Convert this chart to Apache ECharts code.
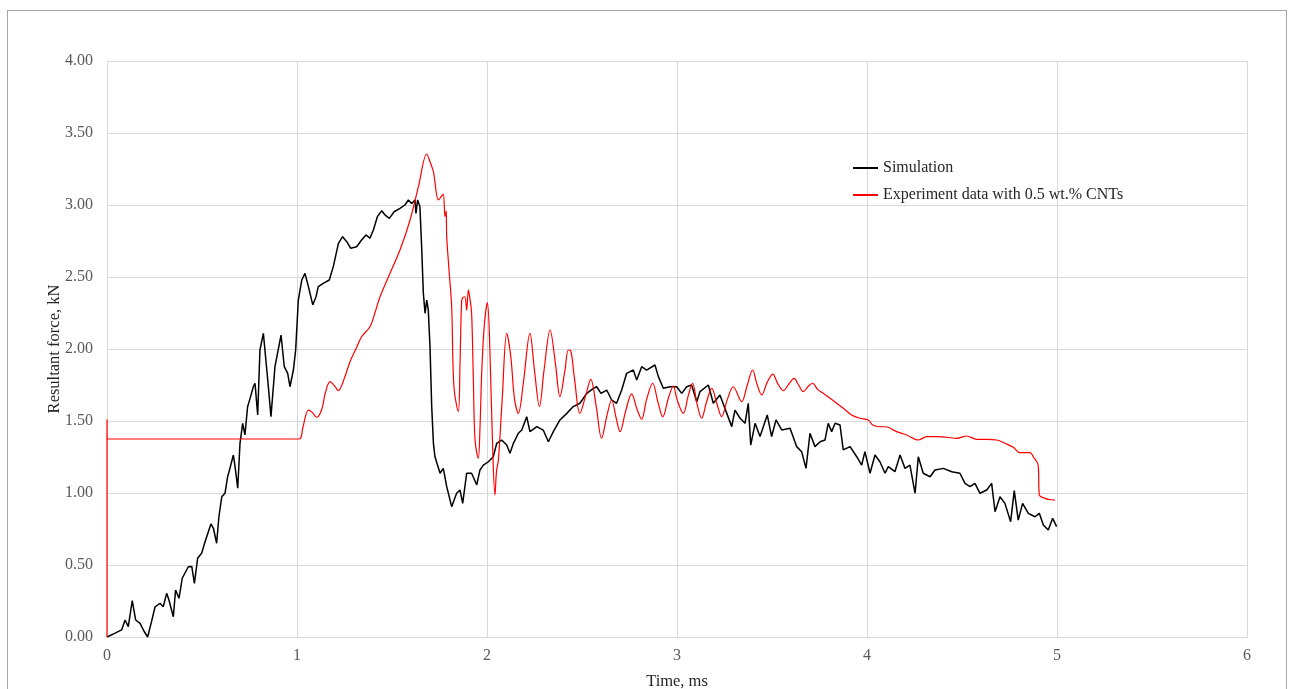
<!DOCTYPE html>
<html>
<head>
<meta charset="utf-8">
<title>Resultant force vs time</title>
<script src="https://cdn.jsdelivr.net/npm/echarts@6/dist/echarts.min.js"></script>
<style>
  html, body { margin: 0; padding: 0; background: #fff; }
  #frame { position: absolute; left: 7px; top: 10px; width: 1280px; height: 700px; border: 1px solid #a6a6a6; box-sizing: border-box; }
  #chart { position: absolute; left: 0; top: 0; width: 1294px; height: 689px; }
</style>
</head>
<body>
<div id="frame"></div>
<div id="chart"></div>
<script>
// Axis ticks
const xTicks = [0, 1, 2, 3, 4, 5, 6];
const yTicks = [0, 0.5, 1, 1.5, 2, 2.5, 3, 3.5, 4];

const seriesNames = ['Simulation', 'Experiment data with 0.5 wt.% CNTs'];

// Simulation: time (ms) and resultant force (kN)
const simTime = [0, 0.04, 0.077, 0.095, 0.112, 0.133, 0.151, 0.174, 0.195, 0.214, 0.235, 0.253, 0.279, 0.296, 0.314, 0.326, 0.349, 0.361, 0.379, 0.396, 0.428, 0.446, 0.46, 0.477, 0.498, 0.516, 0.547, 0.56, 0.577, 0.589, 0.604, 0.621, 0.635, 0.647, 0.665, 0.674, 0.688, 0.7, 0.714, 0.726, 0.74, 0.753, 0.77, 0.779, 0.793, 0.805, 0.823, 0.846, 0.863, 0.884, 0.916, 0.933, 0.951, 0.963, 0.981, 0.993, 1.007, 1.025, 1.042, 1.06, 1.083, 1.1, 1.112, 1.138, 1.17, 1.191, 1.218, 1.24, 1.262, 1.283, 1.314, 1.34, 1.363, 1.384, 1.402, 1.423, 1.446, 1.463, 1.486, 1.511, 1.542, 1.568, 1.586, 1.604, 1.621, 1.626, 1.635, 1.647, 1.656, 1.665, 1.674, 1.683, 1.691, 1.7, 1.709, 1.718, 1.726, 1.753, 1.77, 1.788, 1.814, 1.84, 1.858, 1.872, 1.893, 1.919, 1.946, 1.963, 1.981, 2.007, 2.033, 2.051, 2.077, 2.104, 2.121, 2.139, 2.165, 2.183, 2.209, 2.226, 2.262, 2.296, 2.323, 2.349, 2.384, 2.42, 2.454, 2.489, 2.525, 2.56, 2.577, 2.6, 2.63, 2.656, 2.682, 2.709, 2.735, 2.77, 2.788, 2.814, 2.84, 2.884, 2.902, 2.928, 2.963, 2.998, 3.025, 3.051, 3.077, 3.104, 3.121, 3.165, 3.191, 3.226, 3.262, 3.288, 3.305, 3.332, 3.358, 3.375, 3.388, 3.411, 3.437, 3.475, 3.498, 3.521, 3.551, 3.595, 3.63, 3.656, 3.679, 3.7, 3.726, 3.753, 3.779, 3.796, 3.814, 3.832, 3.858, 3.875, 3.911, 3.946, 3.972, 3.989, 4.016, 4.042, 4.068, 4.095, 4.112, 4.147, 4.174, 4.2, 4.226, 4.253, 4.27, 4.296, 4.332, 4.358, 4.402, 4.446, 4.489, 4.516, 4.542, 4.568, 4.595, 4.63, 4.656, 4.674, 4.7, 4.726, 4.756, 4.775, 4.796, 4.819, 4.849, 4.884, 4.907, 4.928, 4.954, 4.977, 4.998];
const simForce = [0, 0.025, 0.049, 0.118, 0.072, 0.252, 0.118, 0.095, 0.04, 0, 0.11, 0.21, 0.234, 0.21, 0.303, 0.257, 0.141, 0.326, 0.269, 0.408, 0.488, 0.49, 0.373, 0.547, 0.581, 0.662, 0.785, 0.755, 0.651, 0.835, 0.974, 0.998, 1.113, 1.171, 1.264, 1.183, 1.033, 1.345, 1.484, 1.403, 1.599, 1.657, 1.738, 1.762, 1.542, 1.993, 2.109, 1.785, 1.53, 1.877, 2.097, 1.877, 1.831, 1.738, 1.854, 1.993, 2.34, 2.479, 2.525, 2.433, 2.306, 2.363, 2.433, 2.456, 2.479, 2.572, 2.734, 2.78, 2.745, 2.699, 2.71, 2.757, 2.792, 2.769, 2.826, 2.919, 2.96, 2.931, 2.907, 2.953, 2.977, 3.0, 3.035, 3.011, 3.035, 2.942, 3.035, 2.988, 2.71, 2.387, 2.248, 2.34, 2.271, 2.016, 1.599, 1.345, 1.252, 1.137, 1.171, 1.044, 0.905, 0.998, 1.021, 0.928, 1.137, 1.137, 1.056, 1.16, 1.194, 1.217, 1.252, 1.345, 1.368, 1.333, 1.276, 1.345, 1.415, 1.437, 1.53, 1.426, 1.461, 1.437, 1.356, 1.426, 1.507, 1.553, 1.6, 1.623, 1.692, 1.727, 1.738, 1.692, 1.715, 1.646, 1.623, 1.715, 1.831, 1.854, 1.785, 1.877, 1.854, 1.889, 1.808, 1.727, 1.738, 1.738, 1.692, 1.738, 1.75, 1.634, 1.704, 1.75, 1.623, 1.681, 1.553, 1.461, 1.576, 1.519, 1.484, 1.623, 1.333, 1.484, 1.392, 1.542, 1.392, 1.507, 1.438, 1.449, 1.322, 1.287, 1.171, 1.415, 1.322, 1.356, 1.368, 1.484, 1.426, 1.484, 1.472, 1.299, 1.322, 1.252, 1.194, 1.287, 1.137, 1.264, 1.217, 1.137, 1.183, 1.148, 1.264, 1.171, 1.194, 0.998, 1.252, 1.137, 1.113, 1.16, 1.171, 1.148, 1.137, 1.067, 1.044, 1.067, 0.998, 1.021, 1.067, 0.87, 0.974, 0.928, 0.801, 1.016, 0.812, 0.928, 0.859, 0.835, 0.859, 0.778, 0.743, 0.824, 0.766];

// Experiment: time (ms) and resultant force (kN)
const expTime = [0, 0, 0.005, 1.01, 1.03, 1.06, 1.08, 1.104, 1.13, 1.15, 1.174, 1.2, 1.217, 1.25, 1.279, 1.31, 1.34, 1.384, 1.41, 1.437, 1.489, 1.542, 1.595, 1.639, 1.683, 1.7, 1.718, 1.744, 1.76, 1.77, 1.779, 1.785, 1.788, 1.8, 1.814, 1.826, 1.849, 1.858, 1.867, 1.876, 1.884, 1.893, 1.902, 1.91, 1.919, 1.928, 1.937, 1.954, 1.963, 1.972, 1.985, 2.002, 2.015, 2.03, 2.042, 2.05, 2.06, 2.08, 2.104, 2.125, 2.145, 2.165, 2.191, 2.226, 2.25, 2.276, 2.3, 2.332, 2.36, 2.384, 2.41, 2.428, 2.44, 2.46, 2.489, 2.52, 2.546, 2.575, 2.603, 2.63, 2.656, 2.68, 2.7, 2.73, 2.761, 2.79, 2.814, 2.84, 2.872, 2.9, 2.925, 2.955, 2.981, 3.0, 3.033, 3.06, 3.082, 3.105, 3.13, 3.155, 3.183, 3.21, 3.235, 3.265, 3.296, 3.34, 3.37, 3.398, 3.42, 3.446, 3.475, 3.504, 3.53, 3.56, 3.59, 3.616, 3.64, 3.665, 3.69, 3.714, 3.74, 3.77, 3.823, 3.875, 3.919, 3.963, 4.007, 4.03, 4.068, 4.1, 4.156, 4.209, 4.27, 4.314, 4.37, 4.42, 4.472, 4.525, 4.577, 4.63, 4.683, 4.726, 4.77, 4.805, 4.858, 4.875, 4.901, 4.907, 4.937, 4.96, 4.989];
const expForce = [0, 1.51, 1.375, 1.375, 1.45, 1.576, 1.56, 1.526, 1.58, 1.7, 1.773, 1.74, 1.71, 1.8, 1.912, 2.0, 2.085, 2.155, 2.25, 2.363, 2.525, 2.687, 2.896, 3.127, 3.354, 3.3, 3.231, 3.035, 3.06, 3.076, 2.919, 2.96, 2.78, 2.55, 2.294, 1.738, 1.565, 1.9, 2.34, 2.36, 2.363, 2.27, 2.41, 2.35, 2.248, 1.8, 1.368, 1.241, 1.45, 1.831, 2.15, 2.322, 2.0, 1.3, 0.986, 1.15, 1.229, 1.65, 2.109, 1.95, 1.65, 1.553, 1.762, 2.109, 1.85, 1.6, 1.85, 2.132, 1.9, 1.669, 1.85, 1.993, 1.99, 1.8, 1.553, 1.68, 1.789, 1.6, 1.38, 1.53, 1.646, 1.52, 1.426, 1.57, 1.688, 1.58, 1.512, 1.65, 1.762, 1.63, 1.53, 1.66, 1.743, 1.65, 1.553, 1.68, 1.762, 1.62, 1.519, 1.63, 1.727, 1.62, 1.53, 1.65, 1.738, 1.634, 1.75, 1.854, 1.76, 1.681, 1.77, 1.826, 1.76, 1.711, 1.76, 1.796, 1.75, 1.704, 1.74, 1.762, 1.72, 1.692, 1.641, 1.588, 1.542, 1.519, 1.507, 1.472, 1.46, 1.46, 1.426, 1.403, 1.368, 1.391, 1.391, 1.387, 1.38, 1.396, 1.373, 1.373, 1.368, 1.345, 1.317, 1.28, 1.28, 1.252, 1.194, 0.986, 0.963, 0.955, 0.951];

const pairs = (t, f) => t.map((v, i) => [v, f[i]]);

const serif = '"Liberation Serif", "DejaVu Serif", serif';
const gridColor = '#d9d9d9';
const titleColor = '#262626';
const tickColor = '#595959';

const chart = echarts.init(document.getElementById('chart'), null, { renderer: 'canvas' });
chart.setOption({
  animation: false,
  backgroundColor: 'transparent',
  grid: { left: 107, right: 47, top: 61, bottom: 52, containLabel: false, outerBoundsMode: 'none' },
  legend: {
    orient: 'vertical',
    left: 853,
    top: 160,
    padding: 0,
    itemWidth: 25,
    itemHeight: 2,
    itemGap: 11,
    icon: 'rect',
    data: seriesNames,
    textStyle: { fontFamily: serif, fontSize: 16, lineHeight: 16, color: titleColor }
  },
  xAxis: {
    type: 'value',
    min: xTicks[0],
    max: xTicks[xTicks.length - 1],
    interval: 1,
    name: 'Time, ms',
    nameLocation: 'middle',
    nameGap: 36,
    nameMoveOverlap: false,
    nameTextStyle: { fontFamily: serif, fontSize: 16.5, color: titleColor },
    axisLine: { show: true, lineStyle: { color: gridColor, width: 1 } },
    axisTick: { show: false },
    axisLabel: { fontFamily: serif, fontSize: 16, color: tickColor, margin: 11 },
    splitLine: { show: true, lineStyle: { color: gridColor, width: 1 } }
  },
  yAxis: {
    type: 'value',
    min: yTicks[0],
    max: yTicks[yTicks.length - 1],
    interval: 0.5,
    name: 'Resultant force, kN',
    nameLocation: 'middle',
    nameGap: 44,
    nameMoveOverlap: false,
    nameTextStyle: { fontFamily: serif, fontSize: 16.5, color: titleColor },
    axisLine: { show: true, lineStyle: { color: gridColor, width: 1 } },
    axisTick: { show: false },
    axisLabel: { fontFamily: serif, fontSize: 16, color: tickColor, margin: 14, formatter: v => v.toFixed(2) },
    splitLine: { show: true, lineStyle: { color: gridColor, width: 1 } }
  },
  series: [
    {
      name: seriesNames[0],
      type: 'line',
      data: pairs(simTime, simForce),
      showSymbol: false,
      symbol: 'none',
      smooth: false,
      color: '#000000',
      lineStyle: { color: '#000000', width: 1.5 }
    },
    {
      name: seriesNames[1],
      type: 'line',
      data: pairs(expTime, expForce),
      showSymbol: false,
      symbol: 'none',
      smooth: 0.35,
      color: '#ff0000',
      lineStyle: { color: '#ff0000', width: 1.2 }
    }
  ]
});
</script>
</body>
</html>
